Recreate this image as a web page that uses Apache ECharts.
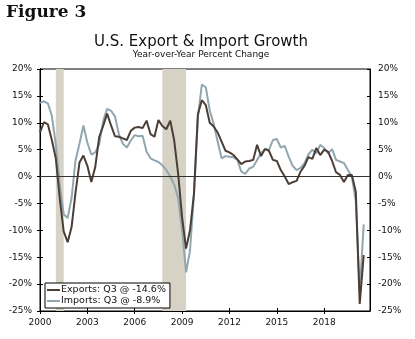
<!DOCTYPE html>
<html>
<head>
<meta charset="utf-8">
<script src="https://cdn.jsdelivr.net/npm/echarts@6/dist/echarts.min.js"></script>
<style>
html,body{margin:0;padding:0;background:#fff;}
#chart{width:415px;height:339px;}
</style>
</head>
<body>
<div id="chart"></div>
<script>
// Quarterly data, 2000 Q1 .. 2020 Q3 (year-over-year % change)
const startYear = 2000;
const exportsYoY = [
  8.2, 10.1, 9.7, 6.8,
  3.4, -4.0, -10.2, -12.2,
  -9.4, -3.0, 2.6, 3.9,
  2.0, -1.0, 1.8, 7.4,
  9.4, 11.7, 9.5, 7.5,
  7.4, 7.1, 6.8, 8.5,
  9.1, 9.2, 9.0, 10.4,
  7.9, 7.4, 10.5, 9.4,
  8.8, 10.4, 6.7, 0.5,
  -7.6, -13.4, -10.0, -3.2,
  11.6, 14.2, 13.3, 10.0,
  9.3, 8.2, 6.5, 4.8,
  4.5, 4.0, 3.2, 2.3,
  2.8, 2.9, 3.1, 5.9,
  3.8, 5.1, 4.8, 3.1,
  2.9, 1.2, 0.0, -1.4,
  -1.05, -0.8, 0.9, 2.0,
  3.6, 3.3, 5.3, 4.0,
  5.0, 4.6, 2.9, 0.8,
  0.3, -1.0, 0.3, 0.3,
  -2.8, -23.7, -14.6
];
const importsYoY = [
  13.7, 14.0, 13.6, 11.3,
  6.0, -1.5, -7.0, -7.7,
  -4.0, 3.0, 6.1, 9.5,
  6.3, 4.1, 4.5, 6.0,
  10.3, 12.6, 12.2, 11.2,
  7.8, 6.1, 5.4, 6.7,
  7.7, 7.5, 7.6, 4.6,
  3.4, 3.0, 2.7, 2.1,
  1.2, 0.0, -1.5, -4.0,
  -10.0, -17.8, -13.8, -3.5,
  11.0, 17.1, 16.6, 12.3,
  9.8, 6.5, 3.4, 3.8,
  3.7, 3.6, 3.1, 0.9,
  0.5, 1.5, 1.8, 3.1,
  4.3, 5.2, 4.9, 6.8,
  7.0, 5.4, 5.7, 3.7,
  2.0, 1.2, 1.6, 2.5,
  4.1, 5.0, 4.3, 5.9,
  5.3, 4.3, 5.1, 3.1,
  2.8, 2.5, 1.2, 0.0,
  -4.5, -21.5, -8.9
];
// recession periods, in years since 2000
const recessions = [[1.0, 1.5], [7.75, 9.25]];
const seriesNames = ['Exports: Q3 @ -14.6%', 'Imports: Q3 @ -8.9%'];

const toPairs = arr => arr.map((v, i) => [i / 4, v]);

const FONT = '"DejaVu Sans", Verdana, sans-serif';
const X_MIN = 0, X_MAX = 20.9;

const chart = echarts.init(document.getElementById('chart'), null, {renderer: 'canvas'});

const yBase = {
  type: 'value', min: -25, max: 20, interval: 5,
  splitLine: {show: false},
  axisLine: {show: true, lineStyle: {color: '#000', width: 1}}
};
const yLabel = {
  show: true, formatter: '{value}%', color: '#111',
  fontFamily: FONT, fontSize: 9, margin: 8
};

chart.setOption({
  animation: false,
  backgroundColor: '#fff',
  graphic: [
    {type: 'text', left: 6, top: 4,
     style: {text: 'Figure 3', font: 'bold 17px "DejaVu Serif", Georgia, serif', fill: '#111'}},
    {type: 'text', x: 201, y: 42,
     style: {text: 'U.S. Export & Import Growth', font: '15px ' + FONT, fill: '#111',
             textAlign: 'center', textVerticalAlign: 'middle'}},
    {type: 'text', x: 201, y: 55,
     style: {text: 'Year-over-Year Percent Change', font: '9px ' + FONT, fill: '#111',
             textAlign: 'center', textVerticalAlign: 'middle'}}
  ],
  grid: {left: 40, right: 45, top: 69, bottom: 28, show: true,
         borderColor: '#000', borderWidth: 1, backgroundColor: 'transparent'},
  legend: {
    orient: 'vertical', left: 45, top: 283,
    data: seriesNames,
    icon: 'rect', itemWidth: 13, itemHeight: 2, itemGap: 1,
    padding: [2, 4, 2, 2],
    backgroundColor: '#fff', borderColor: '#000', borderWidth: 1,
    textStyle: {fontFamily: FONT, fontSize: 9.5, color: '#111', padding: [0, 0, 0, -4]}
  },
  xAxis: [
    {type: 'value', min: X_MIN, max: X_MAX, interval: 3, position: 'bottom',
     splitLine: {show: false},
     axisLine: {show: true, onZero: false, lineStyle: {color: '#000'}},
     axisTick: {show: true, inside: false, length: 3, lineStyle: {color: '#000'}},
     axisLabel: {show: true, showMaxLabel: false, color: '#111', fontFamily: FONT, fontSize: 9, margin: 7,
                 formatter: v => String(startYear + v)}},
    {type: 'value', min: X_MIN, max: X_MAX, interval: 3, position: 'bottom', offset: 0,
     splitLine: {show: false},
     axisLine: {show: false, onZero: false},
     axisTick: {show: true, inside: true, length: 3, lineStyle: {color: '#000'}},
     axisLabel: {show: false}}
  ],
  yAxis: [
    Object.assign({}, yBase, {position: 'left',
      axisTick: {show: true, inside: false, length: 3, lineStyle: {color: '#000'}}, axisLabel: yLabel}),
    Object.assign({}, yBase, {position: 'right',
      axisTick: {show: true, inside: false, length: 3, lineStyle: {color: '#000'}}, axisLabel: yLabel}),
    Object.assign({}, yBase, {position: 'left', offset: 0,
      axisTick: {show: true, inside: true, length: 3, lineStyle: {color: '#000'}}, axisLabel: {show: false}}),
    Object.assign({}, yBase, {position: 'right', offset: 0,
      axisTick: {show: true, inside: true, length: 3, lineStyle: {color: '#000'}}, axisLabel: {show: false}})
  ],
  series: [
    {type: 'line', name: 'bands', data: [], z: 1, silent: true,
     markArea: {silent: true, itemStyle: {color: '#d7d2c6'},
       data: recessions.map(r => [{xAxis: r[0]}, {xAxis: r[1]}])}},
    {type: 'line', name: 'zero', data: [], z: 2, silent: true,
     markLine: {silent: true, symbol: 'none', label: {show: false},
       lineStyle: {color: '#333', width: 1, type: 'solid'},
       data: [{yAxis: 0}]}},
    {type: 'line', name: seriesNames[1], data: toPairs(importsYoY), z: 3,
     showSymbol: false, symbol: 'none', color: '#92a6b0',
     lineStyle: {color: '#92a6b0', width: 2}},
    {type: 'line', name: seriesNames[0], data: toPairs(exportsYoY), z: 4,
     showSymbol: false, symbol: 'none', color: '#4a3e36',
     lineStyle: {color: '#4a3e36', width: 2}}
  ]
});
</script>
</body>
</html>
